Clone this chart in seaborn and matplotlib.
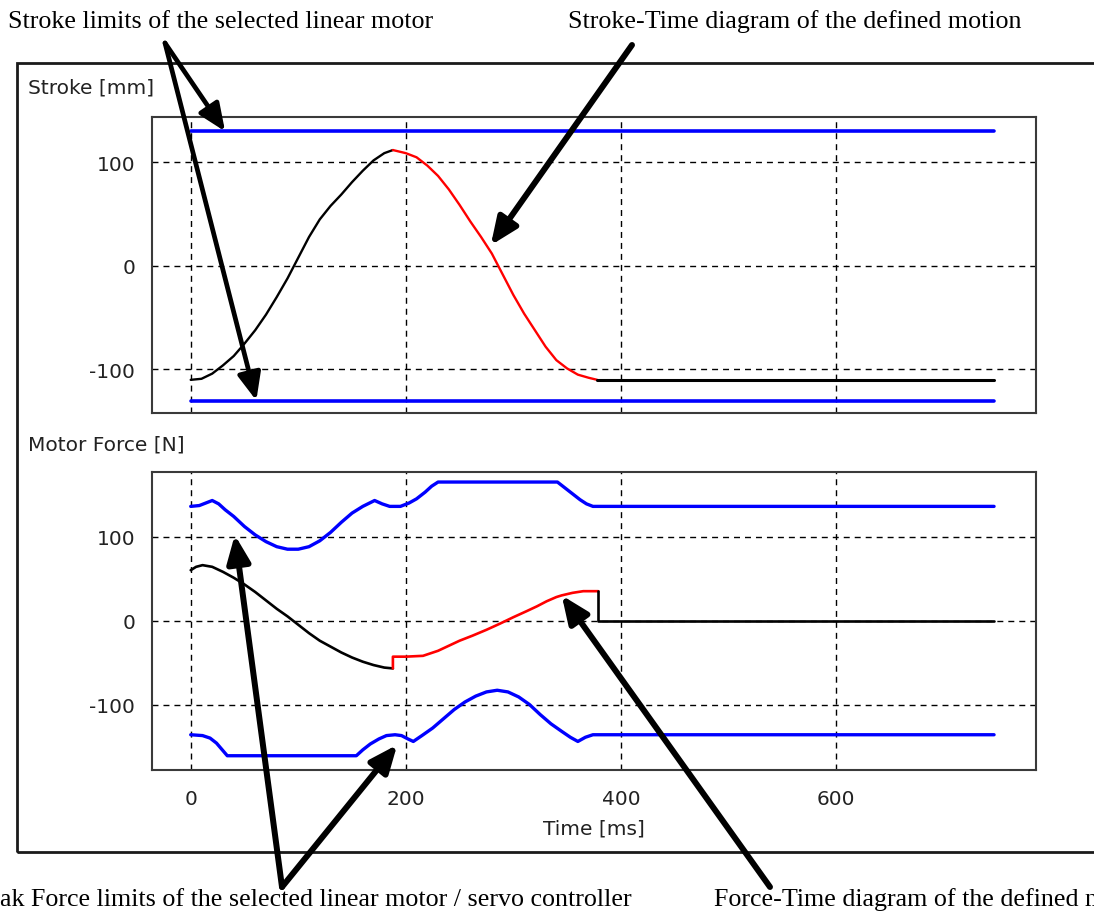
import seaborn as sns
import matplotlib.pyplot as plt
from matplotlib.patches import Rectangle

sns.set_style("white")
plt.rcParams['font.family'] = ['DejaVu Sans']
plt.rcParams['axes.unicode_minus'] = False

H = 912  # figure height in px, used for pixel placed annotations

# stroke [mm] vs time [ms]
stroke_acc_t = [0, 10, 20, 30, 40, 50, 60, 70, 80, 90, 100, 110, 120, 130, 140, 150, 160,
                170, 180, 188]
stroke_acc_v = [-110, -109, -104, -96, -87, -75, -62, -47, -30, -12, 8, 28, 45, 58, 69, 81,
                92, 102, 109, 112]
stroke_dec_t = [188, 200, 210, 220, 230, 240, 250, 260, 270, 280, 290, 300, 310, 320, 330,
                340, 350, 360, 370, 378]
stroke_dec_v = [112, 109, 105, 97, 87, 74, 59, 43, 28, 12, -8, -28, -46, -62, -78, -91, -99,
                -105, -108, -110]
stroke_rest_t = [378, 747]
stroke_rest_v = [-110, -110]
stroke_lim_t = [0, 747]
stroke_max = [130, 130]
stroke_min = [-130, -130]

# motor force [N] vs time [ms]
force_acc_t = [0, 5, 11, 20, 30, 40, 50, 60, 70, 80, 90, 100, 110, 120, 130, 140, 150, 160,
               170, 180, 188]
force_acc_v = [60, 64, 66, 64, 58, 51, 43, 34, 24, 14, 5, -5, -15, -24, -31, -38, -44, -49,
               -53, -56, -57]
force_dec_t = [188, 188, 200, 216, 230, 240, 250, 262, 275, 287, 300, 312, 322, 331, 340,
               345, 355, 365, 379]
force_dec_v = [-57, -43, -43, -42, -36, -30, -24, -18, -11, -4, 4, 11, 17, 23, 28, 30, 33,
               35, 35]
force_rest_t = [379, 379, 747]
force_rest_v = [35, 0, 0]
peak_hi_t = [0, 8, 14, 20, 26, 32, 40, 50, 60, 70, 80, 90, 100, 110, 120, 130, 140, 150, 160,
             171, 178, 185, 195, 203, 210, 218, 224, 230, 341, 348, 355, 362, 368, 374, 747]
peak_hi_v = [136, 137, 140, 143, 139, 132, 124, 112, 102, 94, 88, 85, 85, 88, 95, 105, 117,
             128, 136, 143, 139, 136, 136, 140, 145, 153, 160, 165, 165, 158, 151, 144, 139,
             136, 136]
peak_lo_t = [0, 11, 18, 24, 30, 34, 154, 160, 167, 175, 182, 190, 196, 202, 207, 215, 225,
             235, 245, 255, 265, 275, 285, 295, 305, 315, 325, 335, 345, 353, 360, 367, 374,
             747]
peak_lo_v = [-136, -137, -140, -146, -155, -161, -161, -154, -147, -141, -137, -136, -137,
             -141, -144, -137, -128, -117, -106, -97, -90, -85, -83, -85, -91, -100, -112,
             -123, -132, -139, -144, -139, -136, -136]

BLUE, RED, BLACK = "#0000ff", "#ff0000", "#000000"
TXT = 14.5


def line(ax, t, v, color, lw):
    sns.lineplot(x=t, y=v, ax=ax, color=color, lw=lw, estimator=None, sort=False,
                 zorder=3)


def style_axes(ax, ylim):
    ax.set_xlim(-36, 786)
    ax.set_ylim(*ylim)
    ax.set_xticks([0, 200, 400, 600])
    ax.set_yticks([-100, 0, 100])
    ax.grid(True, color="black", lw=1.0, linestyle=(0, (4.3, 3.6)), zorder=1)
    ax.set_axisbelow(True)
    ax.tick_params(length=0, labelsize=TXT, labelcolor="#222222")
    ax.tick_params(axis="y", pad=12)
    ax.tick_params(axis="x", pad=14)
    for sp in ax.spines.values():
        sp.set_visible(True)
        sp.set_color("#3a3a3a")
        sp.set_linewidth(1.5)
    ax.set_ylabel("")


fig = plt.figure(figsize=(10.94, 9.12), dpi=100)
ax1 = fig.add_axes([152 / 1094, 0.5461, 884 / 1094, 0.3246])
ax2 = fig.add_axes([152 / 1094, 0.1546, 884 / 1094, 0.3268])

# stroke diagram
line(ax1, stroke_lim_t, stroke_max, BLUE, 2.6)
line(ax1, stroke_lim_t, stroke_min, BLUE, 2.6)
line(ax1, stroke_acc_t, stroke_acc_v, BLACK, 1.7)
line(ax1, stroke_dec_t, stroke_dec_v, RED, 1.7)
line(ax1, stroke_rest_t, stroke_rest_v, BLACK, 2.2)
style_axes(ax1, (-142, 144))
ax1.set_xticklabels([])
ax1.set_xlabel("")

# force diagram
line(ax2, peak_hi_t, peak_hi_v, BLUE, 2.4)
line(ax2, peak_lo_t, peak_lo_v, BLUE, 2.4)
line(ax2, force_acc_t, force_acc_v, BLACK, 1.9)
line(ax2, force_dec_t, force_dec_v, RED, 1.9)
line(ax2, force_rest_t, force_rest_v, BLACK, 1.9)
style_axes(ax2, (-178, 177))
ax2.set_xlabel("Time [ms]", fontsize=TXT, color="#222222", labelpad=7)

# panel titles
fig.text(28 / 1094, 1 - 88 / H, "Stroke [mm]", fontsize=TXT, color="#222222", va="center")
fig.text(28 / 1094, 1 - 445 / H, "Motor Force [N]", fontsize=TXT, color="#222222",
         va="center")

# window frame
fig.add_artist(Rectangle((17 / 1094, 1 - 853 / H), 1.2, (853 - 64) / H, transform=fig.transFigure,
                         fill=False, edgecolor="#1a1a1a", lw=2.0, zorder=0))

# callout texts
serif = dict(family=["Liberation Serif", "DejaVu Serif"], fontsize=18.7, color="black",
             va="baseline")
fig.text(8 / 1094, 1 - 28 / H, "Stroke limits of the selected linear motor", ha="left", **serif)
fig.text(568 / 1094, 1 - 28 / H, "Stroke-Time diagram of the defined motion", ha="left", **serif)
fig.text(-26 / 1094, 1 - 906 / H,
         "Peak Force limits of the selected linear motor / servo controller", ha="left", **serif)
fig.text(714 / 1094, 1 - 906 / H, "Force-Time diagram of the defined motion", ha="left", **serif)


def arrow(ax, xy, tail_px, lw):
    ax.annotate("", xy=xy, xycoords="data",
                xytext=(tail_px[0], H - tail_px[1]), textcoords="figure pixels",
                arrowprops=dict(arrowstyle="-|>,head_length=0.75,head_width=0.32", lw=lw,
                                color="black", mutation_scale=22, shrinkA=0, shrinkB=0),
                annotation_clip=False, zorder=5)


arrow(ax1, (32, 130), (165, 44), 3.4)
arrow(ax1, (61, -130), (165, 44), 3.4)
arrow(ax1, (279, 20), (632, 46), 4.3)
arrow(ax2, (41, 102), (282, 888), 4.3)
arrow(ax2, (192, -148), (282, 888), 4.3)
arrow(ax2, (345, 30), (770, 888), 4.3)

fig.savefig("out.png", dpi=100, facecolor="white")
